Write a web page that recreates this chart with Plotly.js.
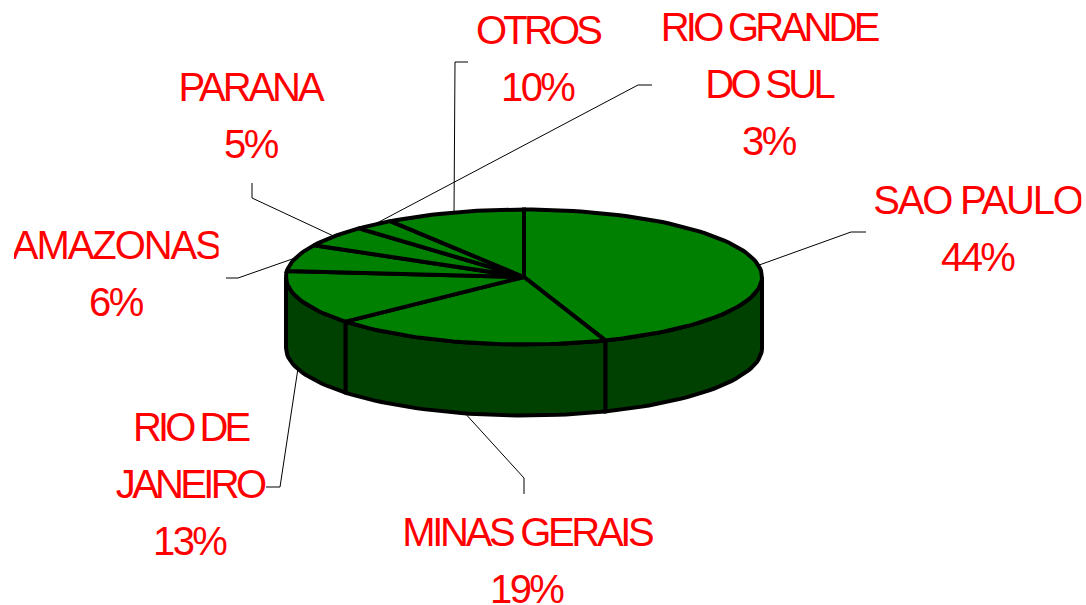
<!DOCTYPE html>
<html>
<head>
<meta charset="utf-8">
<script src="https://cdn.plot.ly/plotly-3.0.1.min.js"></script>
<style>
html,body{margin:0;padding:0;background:#fff}
#chart{width:1086px;height:605px}
.annotation-text{letter-spacing:-2.6px}
</style>
</head>
<body>
<div id="chart"></div>
<script>
// Data
const categories = ['SAO PAULO','MINAS GERAIS','RIO DE JANEIRO','AMAZONAS','PARANA','RIO GRANDE DO SUL','OTROS'];
const shares = [44.45, 19.05, 12.9, 6.4, 5.0, 2.7, 9.5];
const labelLines = [['SAO PAULO'],['MINAS GERAIS'],['RIO DE','JANEIRO'],['AMAZONAS'],['PARANA'],['RIO GRANDE','DO SUL'],['OTROS']];

// Layout of the tilted pie (axis units equal pixels)
const CX = 524, CY = 277, RX = 238, RY = 67.5, DEPTH = 71;
const TOP = '#008000', SIDE = '#004000', EDGE = '#000000', TEXT = '#ff0000';
const labelPos = [[978,200],[527,532],[190,427],[116,245],[251,87],[769,27],[538,30]];
const lineStep = 57;
const nameWidths = {'SAO PAULO':210,'MINAS GERAIS':250,'RIO DE':115,'JANEIRO':149,'AMAZONAS':209,'PARANA':146,'RIO GRANDE':217,'DO SUL':128,'OTROS':124};
const leaderTail = [
  [[851,232],[866,232]], [[524,478],[524,494]], [[280,487],[266,487]], [[238,278],[226,278]],
  [[252,198],[252,183]], [[638,85],[652,85]], [[455,62],[468,62]]
];

const total = shares.reduce((a,b)=>a+b,0);
const pt = (deg,dy=0)=>{const r=deg*Math.PI/180;return [CX+RX*Math.sin(r),CY-RY*Math.cos(r)+dy];};
const arc = (a,b,dy=0)=>{const n=Math.max(2,Math.ceil(Math.abs(b-a)/2));const o=[];for(let i=0;i<=n;i++)o.push(pt(a+(b-a)*i/n,dy));return o;};

let acc=0;
const slices = shares.map(v=>{const a=acc/total*360;acc+=v;return {a,b:acc/total*360};});

const poly=(pts,fill)=>({type:'scatter',mode:'lines',x:pts.map(p=>p[0]),y:pts.map(p=>p[1]),
  fill:'toself',fillcolor:fill,line:{color:EDGE,width:4,shape:'linear'},hoverinfo:'skip',showlegend:false});

const traces=[];
// leader lines
slices.forEach((s,i)=>{
  const mid=(s.a+s.b)/2, front=mid>90&&mid<270;
  const pts=[pt(mid,front?DEPTH:0),...leaderTail[i]];
  traces.push({type:'scatter',mode:'lines',x:pts.map(p=>p[0]),y:pts.map(p=>p[1]),
    line:{color:EDGE,width:1},hoverinfo:'skip',showlegend:false});
});
// visible sides
slices.forEach(s=>{
  const a=Math.max(s.a,90),b=Math.min(s.b,270);
  if(b<=a)return;
  const upper=arc(a,b),lower=arc(b,a,DEPTH);
  traces.push(poly([...upper,...lower,upper[0]],SIDE));
});
// top faces
slices.forEach((s,i)=>{
  const e=arc(s.a,s.b);
  traces.push(Object.assign(poly([[CX,CY],...e,[CX,CY]],TOP),{name:categories[i]}));
});

const annotations=[];
labelLines.forEach((lines,i)=>{
  const all=[...lines,Math.round(shares[i])+'%'];
  all.forEach((t,j)=>annotations.push({text:t,xref:'x',yref:'y',x:labelPos[i][0],y:labelPos[i][1]+j*lineStep,
    height:32,borderpad:0,showarrow:false,xanchor:'center',yanchor:'middle',valign:'middle',
    font:{family:'Liberation Sans, Arial, sans-serif',size:40,color:TEXT}}));
});

const hidden={visible:false,fixedrange:true};
Plotly.newPlot('chart',traces,{
  width:1086,height:605,margin:{l:0,r:0,t:0,b:0},paper_bgcolor:'#fff',plot_bgcolor:'#fff',showlegend:false,
  xaxis:Object.assign({range:[0,1086]},hidden),
  yaxis:Object.assign({range:[605,0]},hidden),
  annotations
},{displayModeBar:false,staticPlot:true}).then(()=>{
  document.querySelectorAll('.annotation-text').forEach(n=>{
    const target=nameWidths[n.textContent];
    if(!target)return;
    const box=n.getBBox().width, delta=(target-box)/n.textContent.length;
    n.style.letterSpacing=(-2.6+delta)+'px';
  });
});
</script>
</body>
</html>
